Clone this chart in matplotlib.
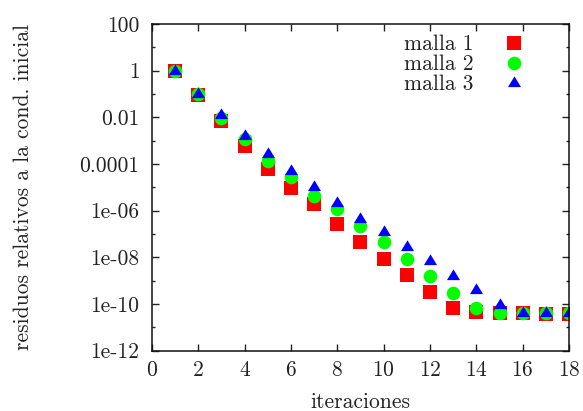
import matplotlib
matplotlib.use("Agg")
import matplotlib.pyplot as plt
from matplotlib.ticker import FixedLocator, FixedFormatter, NullLocator

plt.rcParams['font.family'] = ['cmr10', 'DejaVu Serif']
plt.rcParams['axes.formatter.use_mathtext'] = True

iters = list(range(1, 19))
malla1 = [1.0, 0.09, 7.1e-3, 6.0e-4, 5.9e-5, 9.5e-6, 1.9e-6, 2.7e-7, 4.6e-8,
          8.5e-9, 1.8e-9, 3.3e-10, 6.7e-11, 4.6e-11, 4.2e-11, 4.2e-11, 3.8e-11, 3.7e-11]
malla2 = [1.0, 0.095, 9.6e-3, 1.15e-3, 1.3e-4, 2.8e-5, 4.4e-6, 1.2e-6, 2.2e-7,
          4.5e-8, 8.0e-9, 1.5e-9, 2.8e-10, 6.7e-11, 4.2e-11, 4.2e-11, 3.9e-11, 3.9e-11]
malla3 = [1.0, 0.1, 1.2e-2, 1.6e-3, 2.8e-4, 4.9e-5, 1.0e-5, 2.1e-6, 4.5e-7,
          1.15e-7, 2.7e-8, 6.6e-9, 1.5e-9, 3.8e-10, 8.9e-11, 4.2e-11, 3.9e-11, 3.9e-11]

xticks = [0, 2, 4, 6, 8, 10, 12, 14, 16, 18]
yticks = [1e2, 1, 1e-2, 1e-4, 1e-6, 1e-8, 1e-10, 1e-12]
ylabels = ['100', '1', '0.01', '0.0001', '1e-06', '1e-08', '1e-10', '1e-12']
yminor = [1e1, 1e-1, 1e-3, 1e-5, 1e-7, 1e-9, 1e-11]

# triangle with its centroid on the data point
tri = [(0, 7.1), (-6.5, -3.6), (6.5, -3.6), (0, 7.1)]

fs = 15.5

fig = plt.figure(figsize=(5.83, 4.11), dpi=100)
ax = fig.add_axes([0.2607, 0.1472, 0.976 - 0.2607, 0.9416 - 0.1472])

ax.plot(iters, malla1, ls='none', marker='s', ms=9.8, color='#ff0000', mew=0, label='malla 1')
ax.plot(iters, malla2, ls='none', marker='o', ms=9.8, color='#00ff00', mew=0, label='malla 2')
ax.plot(iters, malla3, ls='none', marker=tri, ms=10.3, color='#0000ff', mew=0, label='malla 3')

ax.set_yscale('log')
ax.set_xlim(0, 18)
ax.set_ylim(1e-12, 1e2)

ax.xaxis.set_major_locator(FixedLocator(xticks))
ax.xaxis.set_minor_locator(NullLocator())
ax.yaxis.set_major_locator(FixedLocator(yticks))
ax.yaxis.set_major_formatter(FixedFormatter(ylabels))
ax.yaxis.set_minor_locator(FixedLocator(yminor))
ax.yaxis.set_minor_formatter(FixedFormatter([''] * len(yminor)))

ax.tick_params(which='both', direction='in', top=True, right=True, width=1, colors='#222222')
ax.tick_params(which='major', length=5, labelsize=fs)
ax.tick_params(axis='y', which='major', pad=9)
ax.tick_params(axis='x', which='major', pad=7)
ax.tick_params(which='minor', length=2.5)
for s in ax.spines.values():
    s.set_linewidth(1.1)
    s.set_color('#111111')

ax.set_xlabel('iteraciones', fontsize=fs, labelpad=9, color='#222222')
ax.set_ylabel('residuos relativos a la cond. inicial', fontsize=fs, color='#222222')
ax.yaxis.set_label_coords(-0.285, 0.5)

leg = ax.legend(loc='upper right', bbox_to_anchor=(0.92, 1.0), frameon=False,
                markerfirst=False, fontsize=fs, handlelength=1.0, handletextpad=1.4,
                labelspacing=0.02, borderaxespad=0.1)
for t in leg.get_texts():
    t.set_color('#222222')

fig.savefig('out.png', dpi=100)
